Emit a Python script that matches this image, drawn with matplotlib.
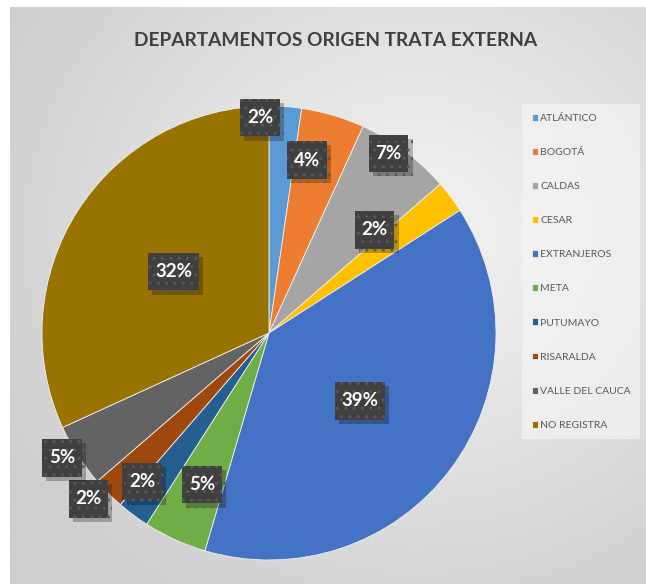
import numpy as np
import matplotlib.pyplot as plt
import matplotlib.patheffects as pe
from matplotlib.path import Path

# data (percent of cases)
departamentos = ['ATLÁNTICO', 'BOGOTÁ', 'CALDAS', 'CESAR', 'EXTRANJEROS', 'META',
                 'PUTUMAYO', 'RISARALDA', 'VALLE DEL CAUCA', 'NO REGISTRA']
valores = [2.3, 4.5, 6.8, 2.3, 38.6, 4.5, 2.3, 2.3, 4.5, 31.8]
etiquetas = ['2%', '4%', '7%', '2%', '39%', '5%', '2%', '2%', '5%', '32%']
colores = ['#5B9BD5', '#ED7D31', '#A5A5A5', '#FFC000', '#4472C4', '#70AD47',
           '#255E91', '#9E480E', '#636363', '#997300']

# label placement (radius fraction, angle offset in degrees from wedge middle)
lab_r = [0.95, 0.78, 0.95, 0.65, 0.50, 0.73, 0.86, 1.08, 1.065, 0.50]
lab_dt = [6.5, 4.0, 3.1, 7.5, 0.2, 0.7, -3.7, -2.4, -1.6, 0.0]


def caja(x0, y0, width, height, mutation_size):
    # square box with more padding vertically than horizontally
    px = 0.36 * mutation_size
    py = 0.55 * mutation_size
    x0, y0 = x0 - px, y0 - py
    x1, y1 = x0 + width + 2 * px, y0 + height + 2 * py
    return Path([(x0, y0), (x1, y0), (x1, y1), (x0, y1), (x0, y0)], closed=True)


W, H = 646, 584
fig = plt.figure(figsize=(W / 100, H / 100), dpi=100)
fig.patch.set_facecolor('white')

# background with radial gradient
bg = fig.add_axes([10 / W, 0, (W - 10) / W, (H - 7) / H])
yy, xx = np.mgrid[0:300, 0:330]
d = np.sqrt(((xx - 210) / 330) ** 2 + ((yy - 120) / 300) ** 2)
d = np.clip(d / 0.75, 0, 1)
img = 0.955 - 0.15 * d
bg.imshow(img, cmap='gray', vmin=0, vmax=1, aspect='auto', extent=[0, 1, 0, 1],
          origin='upper', interpolation='bilinear')
bg.set_axis_off()

# pie
R = 227
cx, cy = 269, 333
ax = fig.add_axes([(cx - R) / W, (H - cy - R) / H, 2 * R / W, 2 * R / H])
wedges, _ = ax.pie(valores, colors=colores, startangle=90, counterclock=False,
                   radius=1, wedgeprops=dict(edgecolor='#f0f0f0', linewidth=0.6))
ax.set_xlim(-1, 1)
ax.set_ylim(-1, 1)
ax.set_aspect('equal')
ax.set_axis_off()

for w, lab, r, dt in zip(wedges, etiquetas, lab_r, lab_dt):
    th = np.deg2rad((w.theta1 + w.theta2) / 2 + dt)
    x, y = r * np.cos(th), r * np.sin(th)
    t = ax.text(x, y, lab, ha='center', va='center', fontsize=13.5, color='white',
                family='Lato', fontweight='bold',
                bbox=dict(boxstyle=caja, fc='#404040', ec='#585858', lw=0, hatch='..'))
    t.get_bbox_patch().set_path_effects([
        pe.SimplePatchShadow(offset=(3, -3), shadow_rgbFace='black', alpha=0.25),
        pe.Normal()])

fig.text(336 / W, 1 - 40 / H, 'DEPARTAMENTOS ORIGEN TRATA EXTERNA', ha='center',
         va='center', fontsize=13.8, fontweight='bold', color='#404040', family='Lato')

leg = fig.legend(wedges, departamentos, loc='upper left',
                 bbox_to_anchor=(517 / W, 1 - 99 / H),
                 handlelength=0.65, handleheight=0.65, handletextpad=0.2,
                 labelspacing=2.4, borderpad=0.9, frameon=True, fancybox=False,
                 prop=dict(family='Lato', size=7.5))
leg.get_frame().set_facecolor('#f7f7f7')
leg.get_frame().set_alpha(0.6)
leg.get_frame().set_linewidth(0)
for t in leg.get_texts():
    t.set_color('#595959')

fig.savefig('out.png', dpi=100)
